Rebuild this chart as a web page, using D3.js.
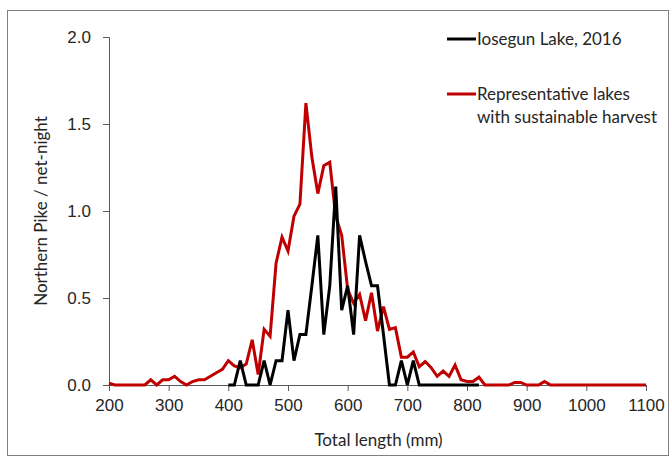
<!DOCTYPE html>
<html>
<head>
<meta charset="utf-8">
<script src="https://cdn.jsdelivr.net/npm/d3@7"></script>
<style>
  body { margin: 0; background: #fff; }
  svg { display: block; font-family: Lato, "Open Sans", sans-serif; }
  .axis path, .axis line { stroke: #595959; }
  .axis text { fill: #262626; font-size: 17px; }
</style>
</head>
<body>
<div id="chart"></div>
<script>
var width = 671, height = 468;

// length classes (mm), 10 mm bins
var lengths = d3.range(200, 1101, 10);

// representative lakes (sustainable harvest), catch per net-night
var repValues = [
  0.01, 0, 0, 0, 0, 0, 0, 0.03, 0, 0.03,          // 200-290
  0.03, 0.05, 0.02, 0, 0.02, 0.03, 0.03, 0.05, 0.07, 0.09, // 300-390
  0.14, 0.11, 0.10, 0.12, 0.26, 0.06, 0.32, 0.28, 0.70, 0.85, // 400-490
  0.77, 0.97, 1.04, 1.62, 1.31, 1.10, 1.26, 1.28, 0.97, 0.86, // 500-590
  0.55, 0.47, 0.52, 0.37, 0.53, 0.31, 0.45, 0.32, 0.33, 0.16, // 600-690
  0.16, 0.19, 0.105, 0.135, 0.10, 0.05, 0.08, 0.05, 0.115, 0.03, // 700-790
  0.02, 0.02, 0.045, 0, 0, 0, 0, 0, 0.015, 0.015, // 800-890
  0, 0, 0, 0.02, 0, 0, 0, 0, 0, 0,               // 900-990
  0, 0, 0, 0, 0, 0, 0, 0, 0, 0, 0                // 1000-1100
];

// Iosegun Lake 2016 (400-820 mm)
var iosegunLengths = d3.range(400, 821, 10);
var iosegunValues = [
  0, 0, 0.14, 0, 0, 0, 0.14, 0, 0.14, 0.14,       // 400-490
  0.43, 0.14, 0.29, 0.29, 0.57, 0.86, 0.29, 0.57, 1.14, 0.43, // 500-590
  0.57, 0.29, 0.86, 0.71, 0.57, 0.57, 0.29, 0, 0, 0.14, // 600-690
  0, 0.14, 0, 0, 0, 0, 0, 0, 0, 0,                // 700-790
  0, 0, 0                                         // 800-820
];

var yTicks = [0, 0.5, 1.0, 1.5, 2.0];
var xTicks = d3.range(200, 1101, 100);

var seriesNames = ['Iosegun Lake, 2016', 'Representative lakes', 'with sustainable harvest'];

var margin = {top: 37, left: 109, right: 25, bottom: 83};

var svg = d3.select('#chart').append('svg')
    .attr('width', width).attr('height', height);

// outer frame
svg.append('rect')
    .attr('x', 7.5).attr('y', 10.5)
    .attr('width', 661).attr('height', 445)
    .attr('fill', 'none').attr('stroke', '#7f7f7f').attr('stroke-width', 1);

var x = d3.scaleLinear().domain([200, 1100]).range([margin.left, width - margin.right]);
var y = d3.scaleLinear().domain([0, 2]).range([height - margin.bottom, margin.top]);

var xAxis = d3.axisBottom(x).tickValues(xTicks).tickFormat(d3.format('d'))
    .tickSizeOuter(0).tickSize(6).tickPadding(8);
var yAxis = d3.axisLeft(y).tickValues(yTicks).tickFormat(d3.format('.1f'))
    .tickSizeOuter(0).tickSize(6).tickPadding(12);

svg.append('g').attr('class', 'x axis')
    .attr('transform', `translate(0,${y(0)})`)
    .call(xAxis);

svg.append('g').attr('class', 'y axis')
    .attr('transform', `translate(${margin.left},0)`)
    .call(yAxis);

// axis titles
svg.append('text')
    .attr('x', (x(200) + x(1100)) / 2 + 1).attr('y', 446)
    .attr('text-anchor', 'middle')
    .attr('fill', '#262626').style('font-size', '17px')
    .text('Total length (mm)');

svg.append('text')
    .attr('transform', `translate(47,${(y(0) + y(2)) / 2})rotate(-90)`)
    .attr('text-anchor', 'middle')
    .attr('fill', '#262626').style('font-size', '17px')
    .text('Northern Pike / net-night');

var line = d3.line()
    .x(d => x(d[0]))
    .y(d => y(d[1]));

svg.append('path')
    .datum(lengths.map((l, i) => [l, repValues[i]]))
    .attr('d', line)
    .attr('fill', 'none').attr('stroke', '#c00000')
    .attr('stroke-width', 3).attr('stroke-linejoin', 'miter');

svg.append('path')
    .datum(iosegunLengths.map((l, i) => [l, iosegunValues[i]]))
    .attr('d', line)
    .attr('fill', 'none').attr('stroke', '#000')
    .attr('stroke-width', 3).attr('stroke-linejoin', 'miter');

// legend
var legend = svg.append('g').attr('class', 'legend');
legend.append('line').attr('x1', 447).attr('x2', 476).attr('y1', 39).attr('y2', 39)
    .attr('stroke', '#000').attr('stroke-width', 3);
legend.append('text').attr('x', 477).attr('y', 45)
    .attr('fill', '#262626').style('font-size', '17px').text(seriesNames[0]);
legend.append('line').attr('x1', 447).attr('x2', 476).attr('y1', 94).attr('y2', 94)
    .attr('stroke', '#c00000').attr('stroke-width', 3);
legend.append('text').attr('x', 477).attr('y', 100)
    .attr('fill', '#262626').style('font-size', '17px').text(seriesNames[1]);
legend.append('text').attr('x', 477).attr('y', 123)
    .attr('fill', '#262626').style('font-size', '17px').text(seriesNames[2]);
</script>
</body>
</html>
